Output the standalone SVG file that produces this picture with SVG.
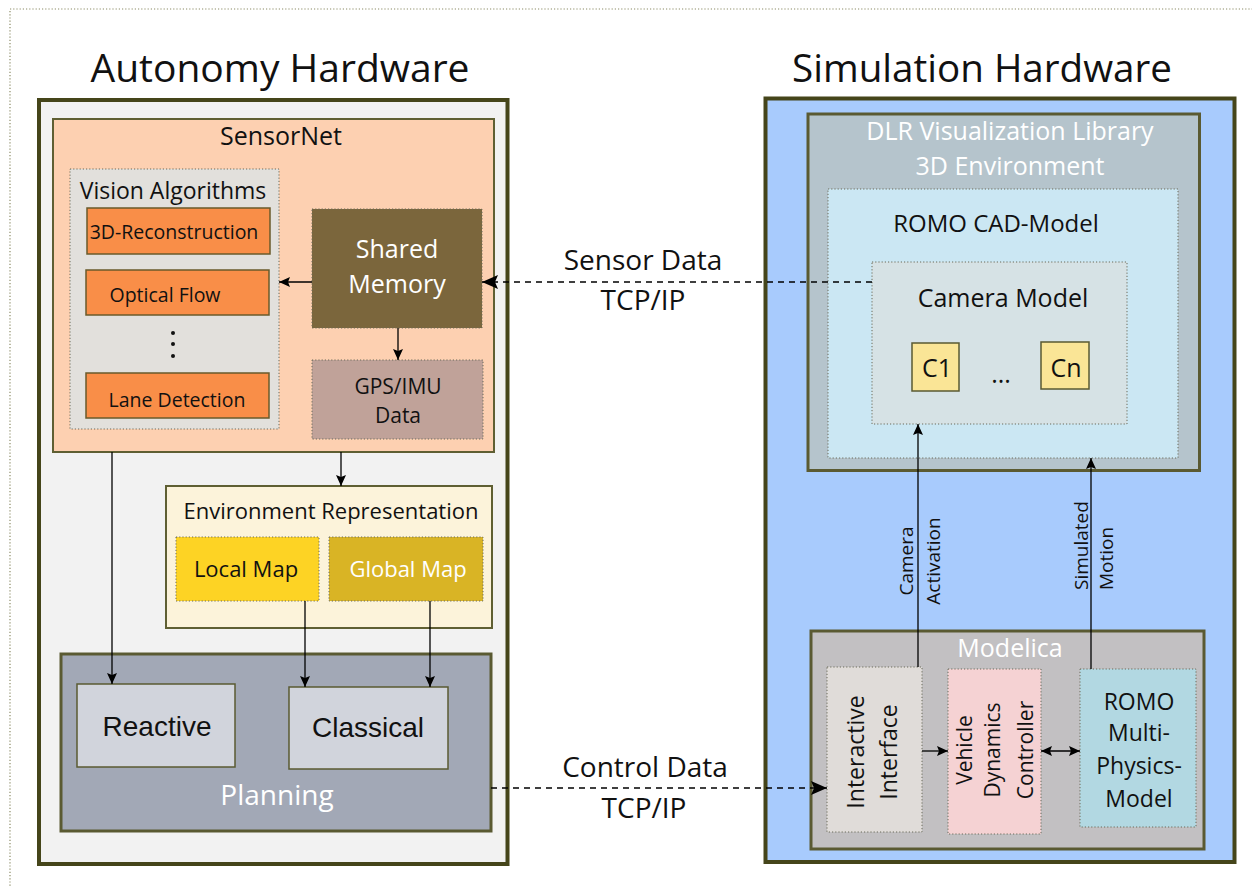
<svg xmlns="http://www.w3.org/2000/svg" width="1252" height="886" viewBox="0 0 1252 886">
<defs>
<style>
text{font-family:"Open Sans","Noto Sans","DejaVu Sans",sans-serif;fill:#111;}
.c{text-anchor:middle;}
.w{fill:#fff;}
.ar{font-family:"Liberation Sans",Arial,sans-serif;}
.thick{stroke:#45451a;stroke-width:4;}
.mid{stroke:#5a5a32;stroke-width:3;}
.thin{stroke:#5f5f33;stroke-width:2;}
.dot{stroke:#6b6b5a;stroke-width:1;stroke-dasharray:1.2 2;}
.ln{stroke:#000;stroke-width:1.3;fill:none;}
.dash{stroke:#000;stroke-width:1.5;fill:none;stroke-dasharray:6 5;}
</style>
<marker id="a" markerWidth="11" markerHeight="10" refX="11" refY="5" orient="auto" markerUnits="userSpaceOnUse" viewBox="0 0 11 10"><path d="M0,0 L11,5 L0,10 L2,5 Z" fill="#000"/></marker>
<marker id="as" markerWidth="11" markerHeight="10" refX="0" refY="5" orient="auto" markerUnits="userSpaceOnUse" viewBox="0 0 11 10"><path d="M11,0 L0,5 L11,10 L9,5 Z" fill="#000"/></marker>
<marker id="A" markerWidth="16" markerHeight="14" refX="16" refY="7" orient="auto" markerUnits="userSpaceOnUse" viewBox="0 0 16 14"><path d="M0,0 L16,7 L0,14 L3,7 Z" fill="#000"/></marker>
</defs>
<rect width="1252" height="886" fill="#fff"/>
<rect x="10" y="9" width="1300" height="900" fill="none" stroke="#8c8c66" stroke-width="1.2" stroke-dasharray="1.2 2"/>

<text class="c" x="280" y="82" font-size="39">Autonomy Hardware</text>
<text class="c" x="982" y="82" font-size="38.6">Simulation Hardware</text>

<g id="autonomy">
<rect x="39" y="100" width="468.5" height="764" fill="#f2f2f2" class="thick"/>
</g>
<g id="sensornet">
<rect x="53" y="119" width="441" height="333" fill="#fdd0b1" class="thin"/>
<text class="c" x="281" y="145" font-size="25">SensorNet</text>
</g>
<g id="vision">
<rect x="70" y="169" width="209" height="260" fill="#e2e0dc" class="dot"/>
<text class="c" x="173" y="199" font-size="23">Vision Algorithms</text>
</g>
<g id="recon">
<rect x="87" y="208" width="183" height="46" fill="#f98e48" stroke="#6a5a2a" stroke-width="1.5"/>
<text class="c" x="174" y="239" font-size="19.5">3D-Reconstruction</text>
</g>
<g id="optical">
<rect x="86" y="270" width="183" height="45" fill="#f98e48" stroke="#6a5a2a" stroke-width="1.5"/>
<text class="c" x="165" y="302" font-size="19.5">Optical Flow</text>
</g>
<g id="vdots">
<circle cx="173" cy="333" r="2" fill="#111"/>
<circle cx="173" cy="344" r="2" fill="#111"/>
<circle cx="173" cy="356" r="2" fill="#111"/>
</g>
<g id="lane">
<rect x="86" y="373" width="183" height="45" fill="#f98e48" stroke="#6a5a2a" stroke-width="1.5"/>
<text class="c" x="177" y="407" font-size="19.5">Lane Detection</text>
</g>
<g id="shared">
<rect x="312" y="209" width="170" height="119" fill="#7b663c" class="dot"/>
<text class="c w" x="397" y="258" font-size="25">Shared</text>
<text class="c w" x="397" y="293" font-size="25">Memory</text>
</g>
<g id="gps">
<rect x="312" y="360" width="171" height="79" fill="#c0a299" class="dot"/>
<text class="c" x="398" y="394" font-size="21">GPS/IMU</text>
<text class="c" x="398" y="423" font-size="21">Data</text>
</g>
<g id="env">
<rect x="166" y="486" width="326" height="142" fill="#fcf3da" class="thin"/>
<text class="c" x="331" y="519" font-size="22">Environment Representation</text>
</g>
<g id="localmap">
<rect x="176" y="537" width="143" height="64" fill="#fdd324" class="dot"/>
<text class="c" x="246" y="577" font-size="22">Local Map</text>
</g>
<g id="globalmap">
<rect x="329" y="537" width="154" height="64" fill="#d9b425" class="dot"/>
<text class="c w" x="408" y="577" font-size="22">Global Map</text>
</g>
<g id="planning">
<rect x="61" y="654" width="430" height="177" fill="#a2a8b6" class="mid"/>
<text class="c w" x="277" y="805" font-size="28">Planning</text>
</g>
<g id="reactive">
<rect x="77" y="684" width="158" height="83" fill="#d1d4dc" stroke="#5a5a32" stroke-width="1.5"/>
<text class="c ar" x="157" y="736" font-size="28">Reactive</text>
</g>
<g id="classical">
<rect x="289" y="687" width="159" height="82" fill="#d1d4dc" stroke="#5a5a32" stroke-width="1.5"/>
<text class="c ar" x="368" y="737" font-size="28">Classical</text>
</g>

<g id="simulation">
<rect x="765.5" y="98.5" width="469" height="763.5" fill="#a8cbfd" class="thick"/>
</g>
<g id="dlr">
<rect x="808" y="114" width="391.5" height="356.5" fill="#b5c4cc" class="mid"/>
<text class="c w" x="1010" y="140" font-size="25">DLR Visualization Library</text>
<text class="c w" x="1010" y="175" font-size="25">3D Environment</text>
</g>
<g id="cad">
<rect x="828" y="189" width="350" height="269" fill="#cbe7f3" class="dot"/>
<text class="c" x="996" y="232" font-size="24">ROMO CAD-Model</text>
</g>
<g id="camera">
<rect x="872" y="262" width="255" height="162" fill="#d6e2e5" class="dot"/>
<text class="c" x="1003" y="307" font-size="25">Camera Model</text>
<text class="c" x="1001" y="383" font-size="25">...</text>
</g>
<g id="c1">
<rect x="912" y="343" width="47" height="48" fill="#fae596" stroke="#5a5a32" stroke-width="1.5"/>
<text class="c" x="937" y="377" font-size="25">C1</text>
</g>
<g id="cn">
<rect x="1041" y="342" width="48" height="47" fill="#fae596" stroke="#5a5a32" stroke-width="1.5"/>
<text class="c" x="1066" y="377" font-size="25">Cn</text>
</g>
<g id="modelica">
<rect x="811" y="631" width="393" height="218" fill="#c2c0c2" class="mid"/>
<text class="c w" x="1010" y="657" font-size="25">Modelica</text>
</g>
<g id="interactive">
<rect x="827" y="667" width="95" height="165" fill="#e0dcd9" class="dot"/>
<text class="c" transform="translate(864,752) rotate(-90)" font-size="23">Interactive</text>
<text class="c" transform="translate(897,752) rotate(-90)" font-size="23">Interface</text>
</g>
<g id="vehicle">
<rect x="948" y="669" width="93" height="165" fill="#f5d2d3" class="dot"/>
<text class="c" transform="translate(972,750) rotate(-90)" font-size="21">Vehicle</text>
<text class="c" transform="translate(1000,750) rotate(-90)" font-size="21">Dynamics</text>
<text class="c" transform="translate(1033,750) rotate(-90)" font-size="21">Controller</text>
</g>
<g id="romompm">
<rect x="1080" y="669" width="116" height="158" fill="#b2d8e2" class="dot"/>
<text class="c" x="1139" y="710" font-size="23">ROMO</text>
<text class="c" x="1139" y="741" font-size="23">Multi-</text>
<text class="c" x="1139" y="774" font-size="23">Physics-</text>
<text class="c" x="1139" y="807" font-size="23">Model</text>
</g>

<g id="connectors">
<line class="ln" x1="312" y1="282" x2="279" y2="282" marker-end="url(#a)"/>
<line class="ln" x1="398" y1="328" x2="398" y2="360" marker-end="url(#a)"/>
<line class="ln" x1="341" y1="452" x2="341" y2="486" marker-end="url(#a)"/>
<line class="ln" x1="112" y1="452" x2="112" y2="684" marker-end="url(#a)"/>
<line class="ln" x1="305" y1="601" x2="305" y2="687" marker-end="url(#a)"/>
<line class="ln" x1="430" y1="601" x2="430" y2="687" marker-end="url(#a)"/>
<line class="dash" x1="872" y1="282" x2="482" y2="282" marker-end="url(#A)"/>
<line class="dash" x1="491" y1="788" x2="827" y2="788" marker-end="url(#A)"/>
<line class="ln" x1="918" y1="667" x2="918" y2="424" marker-end="url(#a)"/>
<line class="ln" x1="1091" y1="669" x2="1091" y2="458" marker-end="url(#a)"/>
<line class="ln" x1="922" y1="751" x2="948" y2="751" marker-end="url(#a)"/>
<line class="ln" x1="1041" y1="751" x2="1080" y2="751" marker-start="url(#as)" marker-end="url(#a)"/>
<text class="c" x="643" y="270" font-size="28">Sensor Data</text>
<text class="c" x="643" y="310" font-size="28">TCP/IP</text>
<text class="c" x="645" y="777" font-size="28">Control Data</text>
<text class="c" x="644" y="818" font-size="28">TCP/IP</text>
<text class="c" transform="translate(913,561) rotate(-90)" font-size="19">Camera</text>
<text class="c" transform="translate(940,561) rotate(-90)" font-size="19">Activation</text>
<text transform="translate(1088,590) rotate(-90)" font-size="19">Simulated</text>
<text transform="translate(1113,590) rotate(-90)" font-size="19">Motion</text>
</g>
</svg>
